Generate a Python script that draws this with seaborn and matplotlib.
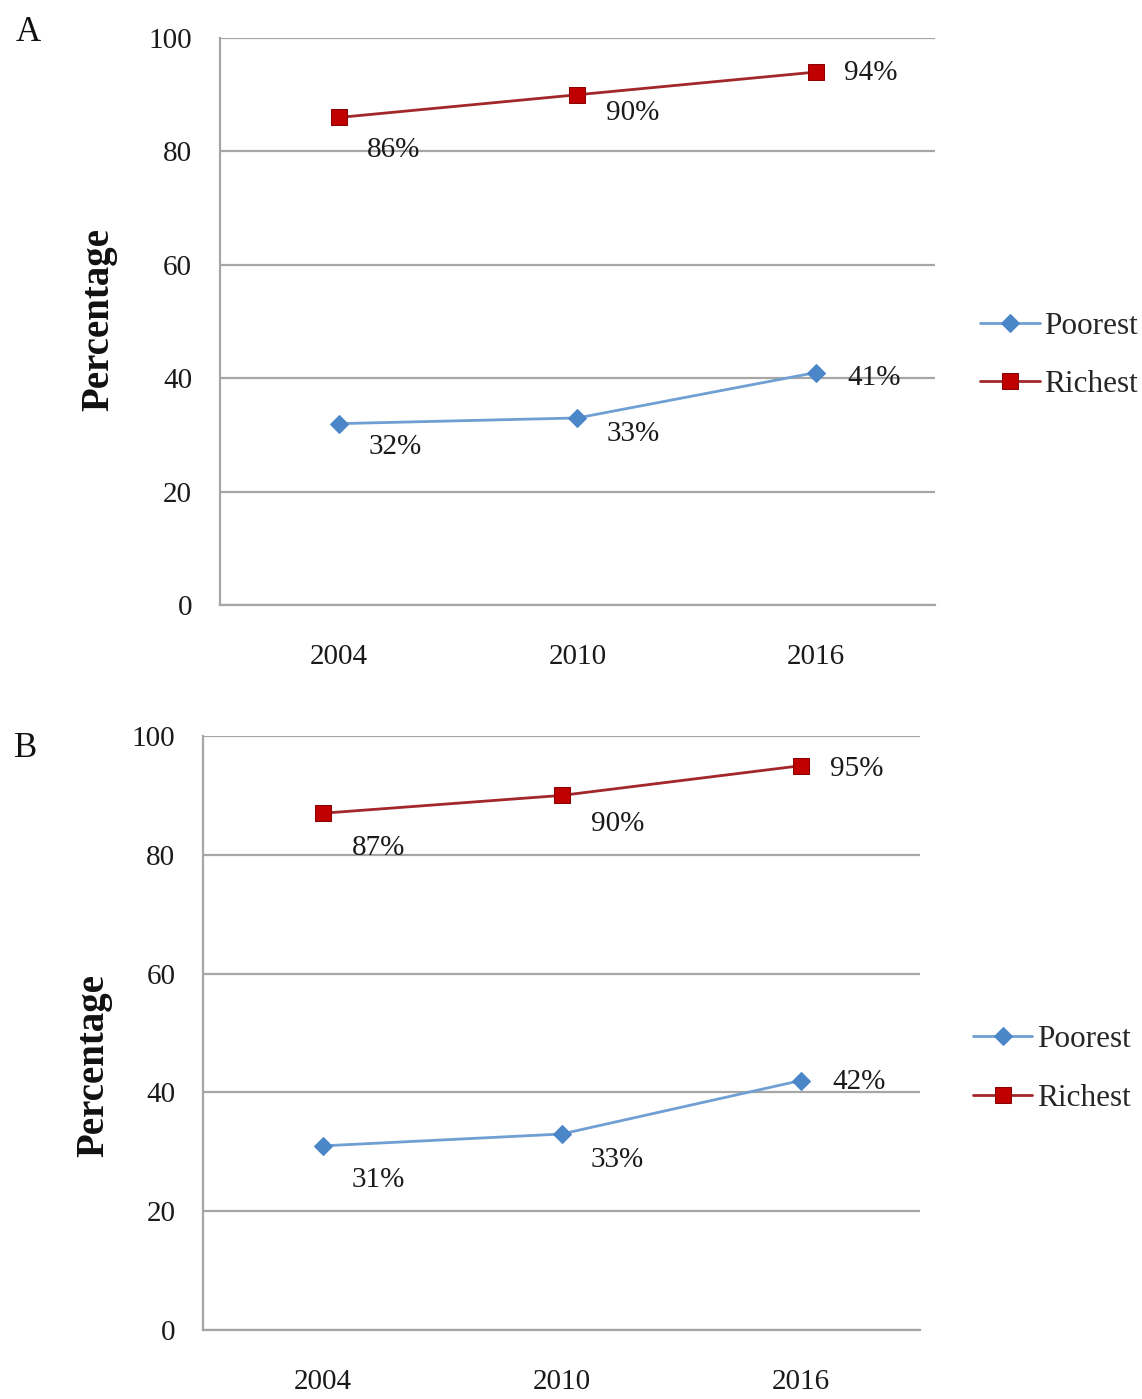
import numpy as np
import pandas as pd
import matplotlib
matplotlib.use("Agg")
from matplotlib import pyplot as plt
import seaborn as sns

# data
years = ["2004", "2010", "2016"]
groups = ["Poorest", "Richest"]
poorest_a = [32, 33, 41]
richest_a = [86, 90, 94]
poorest_b = [31, 33, 42]
richest_b = [87, 90, 95]
y_ticks = [0, 20, 40, 60, 80, 100]

# label offsets (pixels, from marker centre to label centre)
offsets_a = {"Poorest": [(56, -23), (56, -16), (58, -5)],
             "Richest": [(54, -33), (55, -18), (55, -1)]}
offsets_b = {"Poorest": [(56, -34), (56, -26), (58, -1)],
             "Richest": [(56, -35), (56, -29), (56, -3)]}

sns.set_theme(style="white")
plt.rcParams["font.family"] = ["Liberation Serif", "DejaVu Serif"]

# styles
styles = {
    "Poorest": dict(color="#6F9FD3", marker="D", markerfacecolor="#4A86C8",
                    markeredgecolor="#4A86C8", markersize=9),
    "Richest": dict(color="#A3262A", marker="s", markerfacecolor="#C00000",
                    markeredgecolor="#8B0000", markersize=12),
}
grid_color = "#A6A6A6"
fs = 21


def draw_panel(ax, poorest, richest, offsets, ylabel_xy, legend_anchor):
    df = pd.DataFrame({
        "pos": list(range(len(years))) * 2,
        "value": poorest + richest,
        "group": [groups[0]] * len(years) + [groups[1]] * len(years),
    })
    for g in groups:
        sub = df[df["group"] == g]
        sns.lineplot(data=sub, x="pos", y="value", ax=ax, label=g,
                     linewidth=2, **styles[g])
        for (x, y), off in zip(zip(sub["pos"], sub["value"]), offsets[g]):
            ax.annotate(f"{y}%", (x, y), xytext=off, textcoords="offset pixels",
                        ha="center", va="center", fontsize=fs, color="#1a1a1a")

    ax.set_xlim(-0.5, 2.5)
    ax.set_ylim(0, 100)
    ax.set_xticks(range(len(years)))
    ax.set_xticklabels(years)
    ax.set_yticks(y_ticks)
    ax.yaxis.grid(True, color=grid_color, linewidth=1.6)
    ax.set_axisbelow(True)
    ax.tick_params(axis="y", length=0, pad=20, labelsize=fs, colors="#1a1a1a")
    ax.tick_params(axis="x", length=0, pad=28, labelsize=fs, colors="#1a1a1a")
    for side in ["top", "right"]:
        ax.spines[side].set_visible(False)
    for side in ["left", "bottom"]:
        ax.spines[side].set_color(grid_color)
        ax.spines[side].set_linewidth(1.6)
    ax.set_xlabel("")
    ax.set_ylabel("Percentage", fontsize=28, fontweight="bold", color="#111111")
    ax.yaxis.set_label_coords(*ylabel_xy)
    ax.legend(loc="center left", bbox_to_anchor=legend_anchor, frameon=False,
              fontsize=22.5, handlelength=1.9, handletextpad=0.15,
              labelspacing=0.95, borderaxespad=0)


fig = plt.figure(figsize=(11.42, 13.99), dpi=100)
ax_a = fig.add_axes([0.1926, 0.5675, 0.626, 0.4053])
ax_b = fig.add_axes([0.1778, 0.0493, 0.628, 0.4246])

draw_panel(ax_a, poorest_a, richest_a, offsets_a, (-0.143, 0.503), (1.046, 0.44))
draw_panel(ax_b, poorest_b, richest_b, offsets_b, (-0.127, 0.446), (1.056, 0.44))

fig.text(0.0245, 0.977, "A", fontsize=25, va="center", ha="center", color="#111111")
fig.text(0.022, 0.465, "B", fontsize=25, va="center", ha="center", color="#111111")

fig.savefig("out.png", dpi=100)
plt.close(fig)
